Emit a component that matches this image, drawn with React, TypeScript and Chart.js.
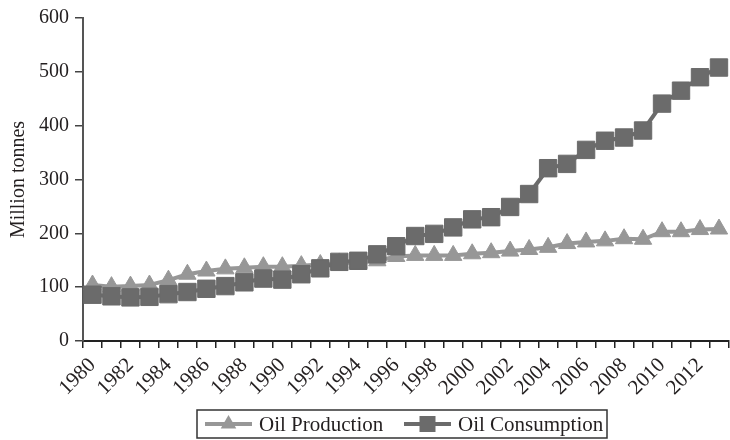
import React, { useEffect, useRef } from "react";
import { Chart, registerables } from "chart.js";

Chart.register(...registerables);

const years = [
  "1980", "1981", "1982", "1983", "1984", "1985", "1986", "1987", "1988", "1989",
  "1990", "1991", "1992", "1993", "1994", "1995", "1996", "1997", "1998", "1999",
  "2000", "2001", "2002", "2003", "2004", "2005", "2006", "2007", "2008", "2009",
  "2010", "2011", "2012", "2013",
];

const oilProduction = [
  104, 101, 102, 104, 113, 124, 130, 134, 136, 138,
  138, 140, 142, 145, 146, 149, 157, 159, 159, 159,
  162, 164, 167, 170, 174, 181, 184, 186, 190, 189,
  203, 203, 207, 208,
];

const oilConsumption = [
  86, 83, 81, 82, 87, 91, 97, 102, 109, 116,
  114, 124, 135, 147, 149, 161, 176, 195, 199, 211,
  226, 230, 249, 273, 321, 329, 355, 372, 378, 391,
  441, 465, 490, 508,
];

const yTickValues = [0, 100, 200, 300, 400, 500, 600];

const FONT = "'Liberation Serif', 'Times New Roman', serif";
const TEXT = "#231f20";
const PROD_COLOR = "#979797";
const CONS_COLOR = "#6b6b6b";

const legendPlugin = {
  id: "lineMarkerLegend",
  afterDraw(chart: any) {
    const ctx = chart.ctx as CanvasRenderingContext2D;
    ctx.save();
    ctx.strokeStyle = "#333333";
    ctx.lineWidth = 1.5;
    ctx.strokeRect(197, 410, 410, 28);
    const cy = 424;
    const items = [
      { label: "Oil Production", color: PROD_COLOR, style: "triangle", x: 205 },
      { label: "Oil Consumption", color: CONS_COLOR, style: "rect", x: 404 },
    ];
    ctx.font = `21px ${FONT}`;
    ctx.textBaseline = "middle";
    ctx.textAlign = "left";
    for (const it of items) {
      ctx.strokeStyle = it.color;
      ctx.fillStyle = it.color;
      ctx.lineWidth = 4;
      ctx.beginPath();
      ctx.moveTo(it.x, cy);
      ctx.lineTo(it.x + 47, cy);
      ctx.stroke();
      const mx = it.x + 23.5;
      ctx.beginPath();
      if (it.style === "triangle") {
        const r = 9;
        ctx.moveTo(mx, cy - r);
        ctx.lineTo(mx + r * 0.866, cy + r / 2);
        ctx.lineTo(mx - r * 0.866, cy + r / 2);
        ctx.closePath();
      } else {
        ctx.rect(mx - 8, cy - 8, 16, 16);
      }
      ctx.fill();
      ctx.fillStyle = TEXT;
      ctx.fillText(it.label, it.x + 54, cy + 1);
    }
    ctx.restore();
  },
};

export default function App() {
  const canvasRef = useRef<HTMLCanvasElement | null>(null);

  useEffect(() => {
    if (!canvasRef.current) return;
    document.body.style.overflow = "hidden";
    const chart = new Chart(canvasRef.current, {
      type: "line",
      data: {
        labels: years,
        datasets: [
          {
            label: "Oil Production",
            data: oilProduction,
            borderColor: PROD_COLOR,
            backgroundColor: PROD_COLOR,
            borderWidth: 4,
            pointStyle: "triangle",
            pointRadius: 10,
            pointBorderWidth: 1,
            pointBorderColor: PROD_COLOR,
            pointBackgroundColor: PROD_COLOR,
            tension: 0,
            order: 1,
          },
          {
            label: "Oil Consumption",
            data: oilConsumption,
            borderColor: CONS_COLOR,
            backgroundColor: CONS_COLOR,
            borderWidth: 4,
            pointStyle: "rect",
            pointRadius: 12.3,
            pointBorderWidth: 1,
            pointBorderColor: CONS_COLOR,
            pointBackgroundColor: CONS_COLOR,
            tension: 0,
            order: 0,
          },
        ],
      },
      options: {
        responsive: false,
        animation: false,
        devicePixelRatio: 1,
        events: [],
        layout: { padding: { left: 0, right: 6, top: 18, bottom: 0 } },
        plugins: {
          legend: { display: false },
          tooltip: { enabled: false },
          title: { display: false },
        },
        scales: {
          x: {
            type: "category",
            offset: true,
            afterFit(scale: any) {
              scale.height = 99;
            },
            grid: {
              display: true,
              drawOnChartArea: false,
              drawTicks: true,
              tickLength: 7,
              offset: true,
              color: "#222222",
              lineWidth: 1.5,
            },
            border: { display: true, color: "#222222", width: 2 },
            ticks: {
              autoSkip: false,
              minRotation: 45,
              maxRotation: 45,
              padding: 5,
              color: TEXT,
              font: { family: FONT, size: 21 },
              callback: (_v: any, i: number) => (i % 2 === 0 ? years[i] : ""),
            },
          },
          y: {
            min: 0,
            max: 600,
            afterFit(scale: any) {
              scale.width = 83;
            },
            afterBuildTicks(scale: any) {
              scale.ticks = yTickValues.map((v) => ({ value: v }));
            },
            grid: {
              display: true,
              drawOnChartArea: false,
              drawTicks: true,
              tickLength: 8,
              color: "#444444",
              lineWidth: 1.5,
            },
            border: { display: true, color: "#555555", width: 2 },
            ticks: {
              padding: 6,
              color: TEXT,
              font: { family: FONT, size: 20 },
            },
            title: {
              display: true,
              text: "Million tonnes",
              color: TEXT,
              font: { family: FONT, size: 20 },
              padding: { top: 7, bottom: 0 },
            },
          },
        },
      },
      plugins: [legendPlugin],
    });
    return () => chart.destroy();
  }, []);

  return (
    <div style={{ position: "fixed", left: 0, top: 0, width: 730, height: 440, overflow: "hidden", background: "#fff" }}>
      <canvas ref={canvasRef} width={742} height={440} style={{ display: "block" }} />
    </div>
  );
}
